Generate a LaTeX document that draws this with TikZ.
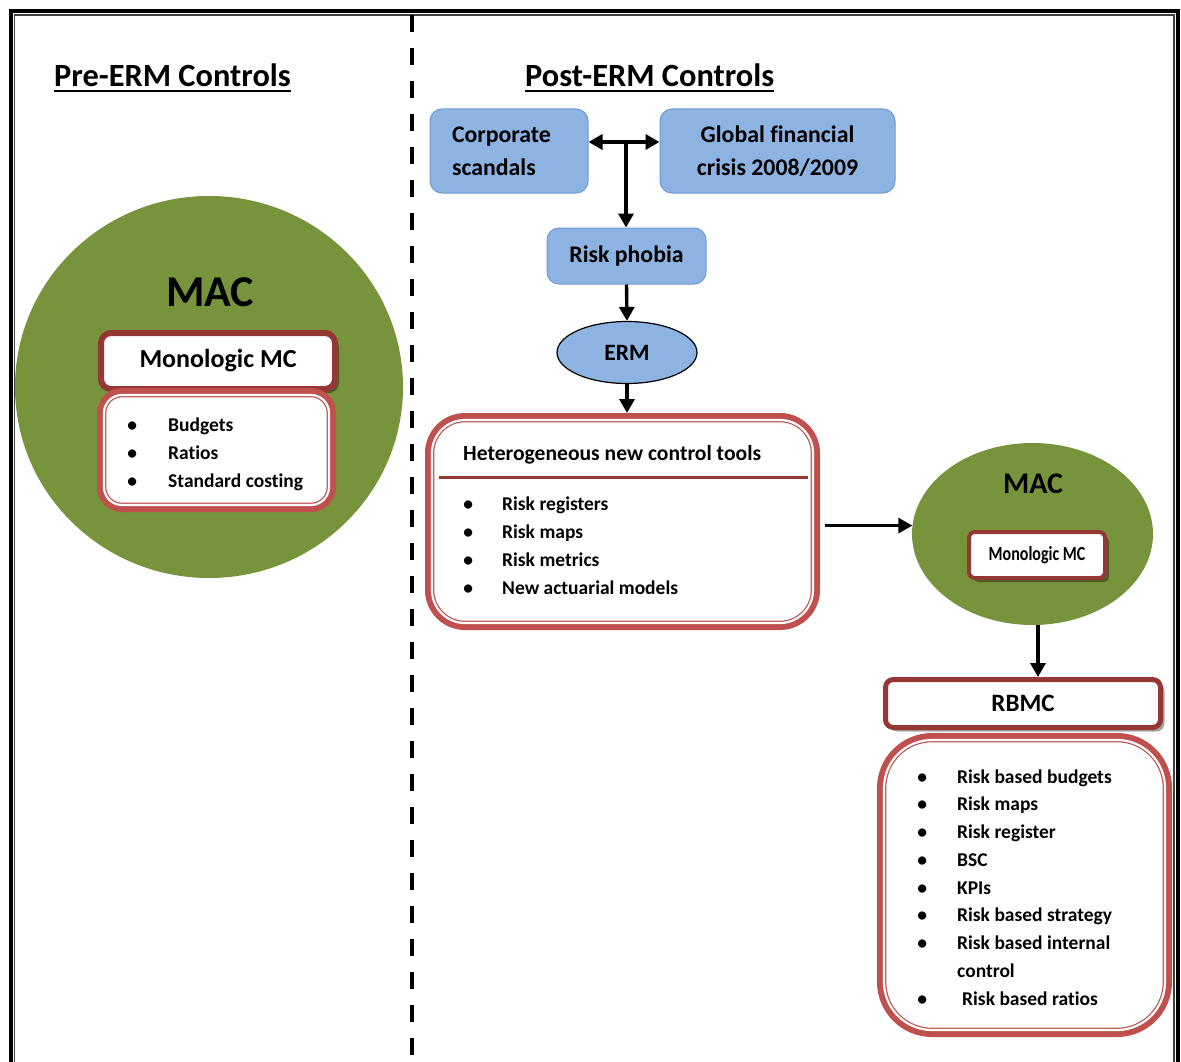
\documentclass[tikz,border=0pt]{standalone}
\usepackage{fontspec}
\setmainfont{Carlito}[Ligatures={NoCommon}]
\usepackage{graphicx}
\usetikzlibrary{arrows.meta,shapes.geometric,shadows}

\definecolor{macgreen}{HTML}{77933C}
\definecolor{boxblue}{HTML}{8DB3E2}
\definecolor{boxblueline}{HTML}{6E9AD3}
\definecolor{lred}{HTML}{C0504D}
\definecolor{dred}{HTML}{953735}

\newcommand\fsz[2]{\fontsize{#1}{#2}\selectfont}
% bullet centred on the current point, then a gap before the item text
\newcommand\itemrow[2]{\makebox[0pt]{\textbullet}\hspace{#1pt}#2}

\begin{document}
\begin{tikzpicture}[x=1pt,y=-1pt,
  bluebox/.style={rectangle, rounded corners=12pt, fill=boxblue, draw=boxblueline,
    line width=1pt, inner sep=0pt, font=\fsz{23.8}{33}\bfseries},
  listbox/.style={rectangle, rounded corners=#1, fill=white, draw=lred,
    line width=4.6pt, inner sep=0pt, outer sep=7pt,
    preaction={draw=lred, line width=14pt},
    postaction={draw=white, line width=2.2pt}},
  headbox/.style={rectangle, rounded corners=#1, fill=white, draw=dred, inner sep=0pt,
    drop shadow={shadow xshift=4pt, shadow yshift=-4pt, opacity=0.35, fill=black}},
  listtext/.style={anchor=base west, inner sep=0pt, font=\fsz{19.5}{28}\bfseries},
  tip/.tip={Triangle[length=14pt,width=15pt]},
  arr/.style={line width=3.4pt, -tip},
]
\useasboundingbox (0,0) rectangle (1181,1062);
\fill[white] (0,0) rectangle (1181,1062);

% outer double frame (open at the bottom)
\draw[line width=4pt] (10.7,1062) -- (10.7,11.3) -- (1178,11.3) -- (1178,1062);
\draw[line width=1.2pt, black!75] (14.5,1062) -- (14.5,15) -- (1174,15) -- (1174,1062);

% dividing dashed line
\draw[line width=4pt, dash pattern=on 17pt off 16pt] (412,15) -- (412,1062);

% ---------- left column ----------
\node[anchor=base west, inner sep=0pt, font=\fsz{32.4}{36}\bfseries] (prehead) at (54,87) {Pre-ERM Controls};
\draw[line width=2pt] ([yshift=-4pt]prehead.base west) -- ([yshift=-4pt]prehead.base east);

\node[ellipse, fill=macgreen, minimum width=388pt, minimum height=382pt, inner sep=0pt] (lmac) at (209,387) {};
\node[anchor=base, inner sep=0pt, font=\fsz{44}{50}\bfseries] (lmactxt) at (210,306) {MAC};
\node[headbox=10pt, line width=6pt, minimum width=234pt, minimum height=56pt,
      font=\fsz{26}{30}\bfseries] (lmono) at (218,361) {Monologic MC};
\node[listbox=18pt, minimum width=225pt, minimum height=110pt] (llist) at (216.5,450) {};
\node[listtext] (llisttxt) at (132,431) {\begin{tabular}[t]{@{}l@{}}
  \itemrow{36}{Budgets}\\
  \itemrow{36}{Ratios}\\
  \itemrow{36}{Standard costing}
\end{tabular}};

% ---------- right column ----------
\node[anchor=base west, inner sep=0pt, font=\fsz{32.4}{36}\bfseries] (posthead) at (525,87) {Post-ERM Controls};
\draw[line width=2pt] ([yshift=-4pt]posthead.base west) -- ([yshift=-4pt]posthead.base east);

\node[bluebox, minimum width=158pt, minimum height=84pt, text width=114pt,
      inner xsep=22pt, align=left] (corp) at (509,151) {Corporate\\scandals};
\node[bluebox, minimum width=235pt, minimum height=84pt, align=center] (glob) at (777.5,151)
      {Global financial\\crisis 2008/2009};
\node[bluebox, minimum width=159pt, minimum height=56pt] (risk) at (626.5,256) {Risk phobia};
\node[ellipse, fill=boxblue, draw=black, line width=1.2pt, minimum width=140pt,
      minimum height=62pt, inner sep=0pt, font=\fsz{23.4}{28}\bfseries] (erm) at (627,352.5) {ERM};

\node[listbox=33pt, minimum width=381pt, minimum height=203pt] (het) at (622.5,521.5) {};
\node[anchor=base west, inner sep=0pt, font=\fsz{21.6}{26}\bfseries] (hettitle) at (463,460)
      {Heterogeneous new control tools};
\draw[dred, line width=3pt] (439,477) -- (808,477);
\node[listtext] (hetlist) at (468,510) {\begin{tabular}[t]{@{}l@{}}
  \itemrow{34}{Risk registers}\\
  \itemrow{34}{Risk maps}\\
  \itemrow{34}{Risk metrics}\\
  \itemrow{34}{New actuarial models}
\end{tabular}};

\node[ellipse, fill=macgreen, minimum width=241pt, minimum height=182pt, inner sep=0pt] (rmac) at (1032.5,534) {};
\node[anchor=base, inner sep=0pt, font=\fsz{30}{34}\bfseries] (rmactxt) at (1033,493) {MAC};
\node[headbox=6pt, line width=4pt, minimum width=136pt, minimum height=46pt] (rmono) at (1037,555)
      {\scalebox{0.8}[1]{\fsz{20}{24}\bfseries Monologic MC}};

\node[headbox=8pt, line width=5pt, minimum width=275pt, minimum height=48pt,
      font=\fsz{25}{30}\bfseries] (rbmc) at (1023,703.5) {RBMC};
\node[listbox=48pt, minimum width=281pt, minimum height=290pt] (rlist) at (1024.5,885) {};
\node[listtext, font=\fsz{19.5}{27.75}\bfseries] (rlisttxt) at (922,783) {\begin{tabular}[t]{@{}l@{}}
  \itemrow{35}{Risk based budgets}\\
  \itemrow{35}{Risk maps}\\
  \itemrow{35}{Risk register}\\
  \itemrow{35}{BSC}\\
  \itemrow{35}{KPIs}\\
  \itemrow{35}{Risk based strategy}\\
  \itemrow{35}{Risk based internal}\\
  \hspace{35pt}control\\
  \itemrow{35}{\hspace{5pt}Risk based ratios}
\end{tabular}};

% ---------- connectors ----------
\coordinate (jn) at (626,142);
\draw[line width=3.4pt, tip-tip] (corp.east |- jn) -- (glob.west |- jn);
\draw[arr] (jn) -- (jn |- risk.north);
\draw[arr] (risk.south) -- (erm.north);
\draw[arr] (erm.south) -- (erm.south |- het.north);
\draw[arr, shorten <=5pt] (het.east |- rmac.176) -- (rmac.176);
\draw[arr] ([xshift=5.5pt]rmac.south) -- ([xshift=5.5pt]rmac.south |- rbmc.north);
\end{tikzpicture}
\end{document}
